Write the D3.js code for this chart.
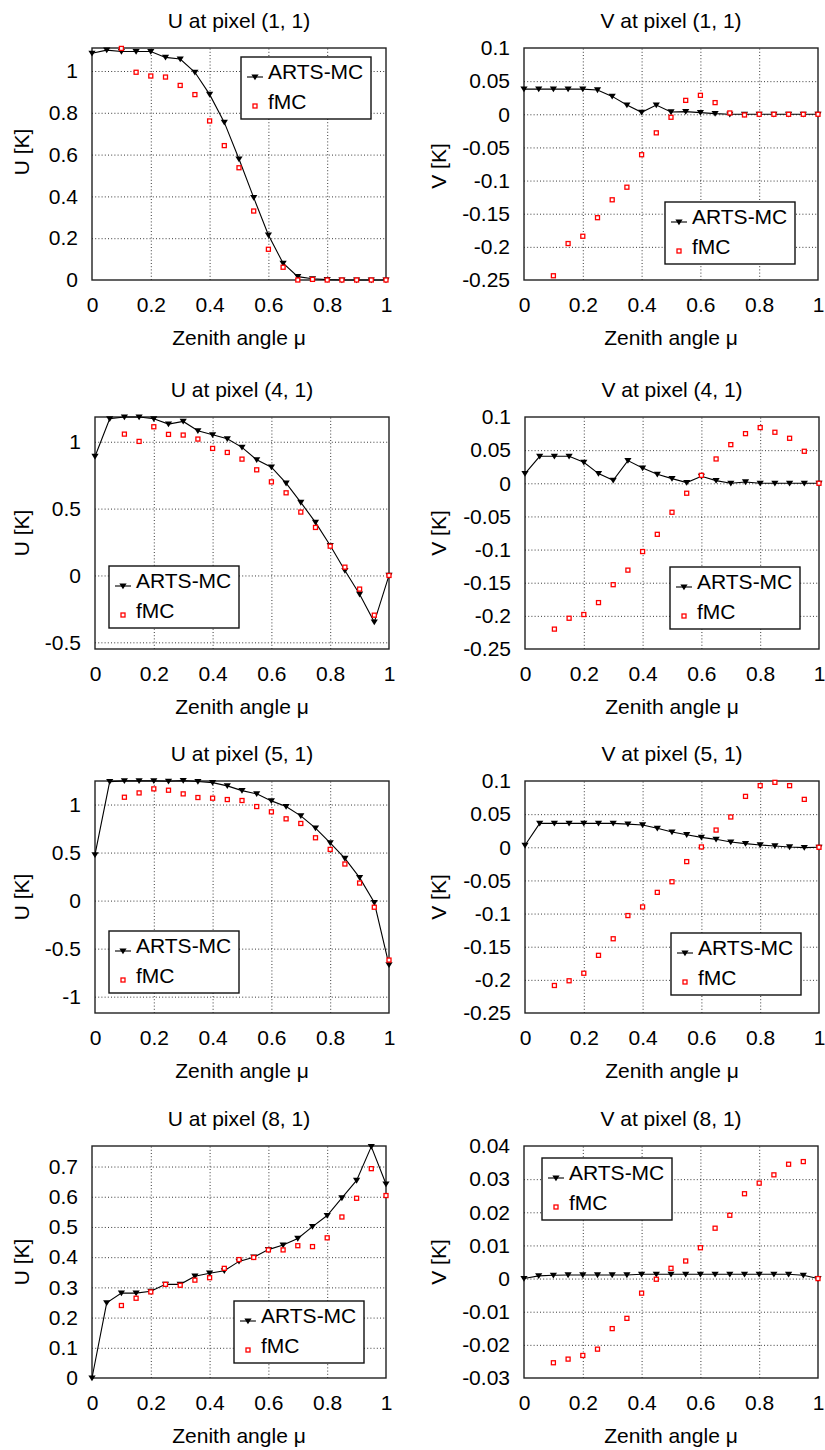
<!DOCTYPE html>
<html>
<head>
<meta charset="utf-8">
<script src="https://cdn.jsdelivr.net/npm/d3@7"></script>
<style>
  body { margin: 0; background: #fff; }
  svg { display: block; font-family: "Liberation Sans", Arial, Helvetica, sans-serif; }
</style>
</head>
<body>
<script>
// zenith angle grid
const mu = [0, 0.05, 0.1, 0.15, 0.2, 0.25, 0.3, 0.35, 0.4, 0.45, 0.5,
  0.55, 0.6, 0.65, 0.7, 0.75, 0.8, 0.85, 0.9, 0.95, 1];
const xTicks = [0, 0.2, 0.4, 0.6, 0.8, 1];
const xTickLabels = ["0", "0.2", "0.4", "0.6", "0.8", "1"];

// pixel (1,1)
const u11Arts = [1.085, 1.10, 1.093, 1.093, 1.093, 1.065, 1.057, 0.994, 0.888, 0.754, 0.579, 0.394, 0.215, 0.08, 0.016, 0.006, 0.002, 0, 0, 0, 0];
const u11Fmc = [null, null, 1.108, 0.994, 0.976, 0.971, 0.931, 0.887, 0.761, 0.643, 0.537, 0.33, 0.147, 0.061, 0, 0.003, 0, 0, 0, 0, 0];
const v11Arts = [0.038, 0.038, 0.038, 0.038, 0.038, 0.0367, 0.027, 0.014, 0.003, 0.014, 0.0035, 0.004, 0.0025, 0.001, 0, 0, 0, 0, 0, 0, 0];
const v11Fmc = [null, null, -0.2436, -0.195, -0.184, -0.156, -0.129, -0.11, -0.061, -0.028, -0.0045, 0.021, 0.0286, 0.0176, 0.002, -0.001, 0, 0, 0, 0, 0];

// pixel (4,1)
const u41Arts = [0.89, 1.172, 1.185, 1.185, 1.172, 1.132, 1.152, 1.082, 1.052, 1.022, 0.958, 0.865, 0.81, 0.69, 0.546, 0.397, 0.224, 0.037, -0.14, -0.349, 0];
const u41Fmc = [null, null, 1.057, 1.0025, 1.112, 1.055, 1.05, 1.02, 0.95, 0.92, 0.87, 0.79, 0.70, 0.618, 0.474, 0.359, 0.219, 0.062, -0.102, -0.297, 0];
const v41Arts = [0.0146, 0.0407, 0.0407, 0.0407, 0.0317, 0.0146, 0.0045, 0.0342, 0.023, 0.0136, 0.007, 0.001, 0.0106, 0.004, 0, 0.002, 0, 0, 0, 0, 0];
const v41Fmc = [null, null, -0.22, -0.2036, -0.198, -0.18, -0.153, -0.131, -0.103, -0.077, -0.0437, -0.015, 0.012, 0.0367, 0.0583, 0.0749, 0.084, 0.077, 0.0679, 0.0483, 0];

// pixel (5,1)
const u51Arts = [0.4775, 1.239, 1.246, 1.246, 1.246, 1.242, 1.249, 1.239, 1.228, 1.194, 1.145, 1.111, 1.038, 0.979, 0.882, 0.754, 0.602, 0.439, 0.239, -0.02, -0.668];
const u51Fmc = [null, null, 1.076, 1.121, 1.163, 1.149, 1.111, 1.073, 1.066, 1.052, 1.042, 0.979, 0.924, 0.851, 0.803, 0.654, 0.533, 0.381, 0.183, -0.069, -0.619];
const v51Arts = [0.003, 0.036, 0.036, 0.036, 0.036, 0.036, 0.036, 0.035, 0.0337, 0.0286, 0.023, 0.019, 0.015, 0.012, 0.008, 0.0055, 0.0035, 0.002, 0.0005, -0.0005, 0];
const v51Fmc = [null, null, -0.2085, -0.2014, -0.19, -0.163, -0.138, -0.103, -0.09, -0.068, -0.052, -0.0216, 0.0005, 0.026, 0.0457, 0.0768, 0.093, 0.098, 0.093, 0.0723, 0];

// pixel (8,1)
const u81Arts = [0, 0.249, 0.281, 0.281, 0.287, 0.31, 0.31, 0.337, 0.347, 0.355, 0.386, 0.40, 0.425, 0.44, 0.462, 0.501, 0.538, 0.596, 0.654, 0.766, 0.642];
const u81Fmc = [null, null, 0.24, 0.264, 0.285, 0.31, 0.307, 0.324, 0.332, 0.363, 0.392, 0.399, 0.424, 0.424, 0.438, 0.435, 0.464, 0.533, 0.595, 0.693, 0.604];
const v81Arts = [0, 0.0008, 0.001, 0.0011, 0.0011, 0.0011, 0.0011, 0.0011, 0.0013, 0.0013, 0.0013, 0.0013, 0.0013, 0.0013, 0.0013, 0.0013, 0.0013, 0.0013, 0.0013, 0.001, 0];
const v81Fmc = [null, null, -0.0254, -0.0243, -0.0232, -0.0213, -0.0151, -0.012, -0.0044, -0.0002, 0.0031, 0.0053, 0.0093, 0.0152, 0.0191, 0.0256, 0.0288, 0.0313, 0.0345, 0.0353, 0];

// y tick labels
const vTicks = [-0.25, -0.2, -0.15, -0.1, -0.05, 0, 0.05, 0.1];
const vTickLabels = ["-0.25", "-0.2", "-0.15", "-0.1", "-0.05", "0", "0.05", "0.1"];
const u11Ticks = [0, 0.2, 0.4, 0.6, 0.8, 1];
const u11TickLabels = ["0", "0.2", "0.4", "0.6", "0.8", "1"];
const u41Ticks = [-0.5, 0, 0.5, 1];
const u41TickLabels = ["-0.5", "0", "0.5", "1"];
const u51Ticks = [-1, -0.5, 0, 0.5, 1];
const u51TickLabels = ["-1", "-0.5", "0", "0.5", "1"];
const u81Ticks = [0, 0.1, 0.2, 0.3, 0.4, 0.5, 0.6, 0.7];
const u81TickLabels = ["0", "0.1", "0.2", "0.3", "0.4", "0.5", "0.6", "0.7"];
const v81Ticks = [-0.03, -0.02, -0.01, 0, 0.01, 0.02, 0.03, 0.04];
const v81TickLabels = ["-0.03", "-0.02", "-0.01", "0", "0.01", "0.02", "0.03", "0.04"];

const seriesNames = ["ARTS-MC", "fMC"];

const panels = [
  { title: "U at pixel (1, 1)", ylab: "U [K]", arts: u11Arts, fmc: u11Fmc, dom: [0, 1.11], ticks: u11Ticks, labels: u11TickLabels,
    left: 92, top: 48, leg: [241, 57], labX: 29, labShift: -12 },
  { title: "V at pixel (1, 1)", ylab: "V [K]", arts: v11Arts, fmc: v11Fmc, dom: [-0.25, 0.1], ticks: vTicks, labels: vTickLabels,
    left: 524, top: 48, leg: [665, 202], labX: 446, labShift: 2 },
  { title: "U at pixel (4, 1)", ylab: "U [K]", arts: u41Arts, fmc: u41Fmc, dom: [-0.55, 1.185], ticks: u41Ticks, labels: u41TickLabels,
    left: 95, top: 417, leg: [109, 566], labX: 29, labShift: 0 },
  { title: "V at pixel (4, 1)", ylab: "V [K]", arts: v41Arts, fmc: v41Fmc, dom: [-0.25, 0.1], ticks: vTicks, labels: vTickLabels,
    left: 525, top: 417, leg: [670, 567], labX: 446, labShift: 0 },
  { title: "U at pixel (5, 1)", ylab: "U [K]", arts: u51Arts, fmc: u51Fmc, dom: [-1.17, 1.245], ticks: u51Ticks, labels: u51TickLabels,
    left: 95, top: 781, leg: [109, 931], labX: 29, labShift: 0 },
  { title: "V at pixel (5, 1)", ylab: "V [K]", arts: v51Arts, fmc: v51Fmc, dom: [-0.25, 0.1], ticks: vTicks, labels: vTickLabels,
    left: 525, top: 781, leg: [671, 933], labX: 446, labShift: 0 },
  { title: "U at pixel (8, 1)", ylab: "U [K]", arts: u81Arts, fmc: u81Fmc, dom: [0, 0.768], ticks: u81Ticks, labels: u81TickLabels,
    left: 92, top: 1146, leg: [234, 1301], labX: 29, labShift: 0 },
  { title: "V at pixel (8, 1)", ylab: "V [K]", arts: v81Arts, fmc: v81Fmc, dom: [-0.03, 0.04], ticks: v81Ticks, labels: v81TickLabels,
    left: 524, top: 1146, leg: [542, 1158], labX: 446, labShift: 0 }
];

const width = 825, height = 1450;
const pw = 294, ph = 232;
const fontSize = 21;
const red = "#ff0000";
const tri = "M-3.6,-2.6L3.6,-2.6L0,3.2Z";

const svg = d3.select("body").append("svg")
  .attr("width", width).attr("height", height);

const drawSquare = (g, x, y) => g.append("rect")
  .attr("x", x - 2).attr("y", y - 2).attr("width", 4).attr("height", 4)
  .attr("fill", "#fff").attr("stroke", red).attr("stroke-width", 1.3);

panels.forEach(p => {
  const x = d3.scaleLinear().domain([0, 1]).range([p.left, p.left + pw]);
  const y = d3.scaleLinear().domain(p.dom).range([p.top + ph, p.top]);
  const g = svg.append("g");

  // grid
  g.append("g")
    .attr("transform", `translate(0,${p.top + ph})`)
    .call(d3.axisBottom(x).tickValues(xTicks.slice(1, -1)).tickSize(-ph).tickFormat(""))
    .call(a => a.select(".domain").remove())
    .call(a => a.selectAll("line").attr("stroke", "#222").attr("stroke-width", 0.9).attr("stroke-dasharray", "1,2.2"));
  g.append("g")
    .attr("transform", `translate(${p.left},0)`)
    .call(d3.axisLeft(y).tickValues(p.ticks.filter(t => y(t) > p.top + 1 && y(t) < p.top + ph - 1)).tickSize(-pw).tickFormat(""))
    .call(a => a.select(".domain").remove())
    .call(a => a.selectAll("line").attr("stroke", "#222").attr("stroke-width", 0.9).attr("stroke-dasharray", "1,2.2"));

  // tick labels
  g.append("g")
    .attr("transform", `translate(0,${p.top + ph})`)
    .call(d3.axisBottom(x).tickValues(xTicks).tickSize(0).tickPadding(17)
      .tickFormat((d, i) => xTickLabels[i]))
    .call(a => a.select(".domain").remove())
    .call(a => a.selectAll("text").attr("font-size", fontSize).attr("font-family", null).attr("fill", "#000"));
  g.append("g")
    .attr("transform", `translate(${p.left},0)`)
    .call(d3.axisLeft(y).tickValues(p.ticks).tickSize(0).tickPadding(14)
      .tickFormat((d, i) => p.labels[i]))
    .call(a => a.select(".domain").remove())
    .call(a => a.selectAll("text").attr("font-size", fontSize).attr("font-family", null).attr("fill", "#000"));

  // box
  g.append("rect")
    .attr("x", p.left).attr("y", p.top).attr("width", pw).attr("height", ph)
    .attr("fill", "none").attr("stroke", "#222").attr("stroke-width", 1.4);

  // titles
  g.append("text")
    .attr("x", p.left + pw / 2).attr("y", p.top - 20)
    .attr("text-anchor", "middle").attr("font-size", fontSize)
    .text(p.title);
  g.append("text")
    .attr("x", p.left + pw / 2).attr("y", p.top + ph + 65)
    .attr("text-anchor", "middle").attr("font-size", fontSize)
    .text("Zenith angle μ");
  g.append("text")
    .attr("transform", `translate(${p.labX},${p.top + ph / 2 + p.labShift}) rotate(-90)`)
    .attr("text-anchor", "middle").attr("font-size", fontSize)
    .text(p.ylab);

  // ARTS-MC line + markers
  const line = d3.line().x((d, i) => x(mu[i])).y(d => y(d));
  g.append("path")
    .attr("d", line(p.arts))
    .attr("fill", "none").attr("stroke", "#000").attr("stroke-width", 1.1);
  g.selectAll(".tri").data(p.arts).join("path")
    .attr("transform", (d, i) => `translate(${x(mu[i])},${y(d)})`)
    .attr("d", tri).attr("fill", "#000");

  // fMC markers
  p.fmc.forEach((d, i) => { if (d !== null) drawSquare(g, x(mu[i]), y(d)); });

  // legend
  const [lx, ly] = p.leg;
  const lg = g.append("g").attr("transform", `translate(${lx},${ly})`);
  lg.append("rect").attr("width", 130).attr("height", 62)
    .attr("fill", "#fff").attr("stroke", "#111").attr("stroke-width", 1.4);
  lg.append("line").attr("x1", 6).attr("x2", 22).attr("y1", 20).attr("y2", 20)
    .attr("stroke", "#000").attr("stroke-width", 1.1);
  lg.append("path").attr("transform", "translate(14,20)").attr("d", tri).attr("fill", "#000");
  drawSquare(lg, 14, 49);
  lg.selectAll("text").data(seriesNames).join("text")
    .attr("x", 27).attr("y", (d, i) => 22 + i * 30)
    .attr("font-size", fontSize)
    .text(d => d);
});
</script>
</body>
</html>
